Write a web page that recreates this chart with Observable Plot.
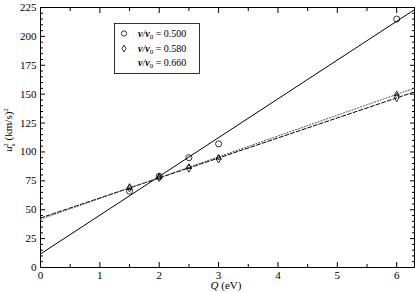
<!DOCTYPE html>
<html><head><meta charset="utf-8">
<script src="https://cdn.jsdelivr.net/npm/d3@7"></script>
<script src="https://cdn.jsdelivr.net/npm/@observablehq/plot@0.6"></script>
<style>body{margin:0;background:#fff}</style>
</head><body><div id="chart"></div>
<script>
const Q = [1.5, 2, 2.5, 3, 6];
const ratios = ["0.500", "0.580", "0.660"];
const u2_a = [66, 79, 95, 107, 215];
const u2_b = [69, 78, 86, 94, 147];
const u2_c = [69, 78, 87, 95, 150];
const xTicks = [0, 1, 2, 3, 4, 5, 6];
const xMinor = [0.5, 1.5, 2.5, 3.5, 4.5, 5.5];
const yTicks = [0, 25, 50, 75, 100, 125, 150, 175, 200, 225];
const yMinor = d3.range(5, 225, 5).filter(v => v % 25 !== 0);
const xDomain = [0, 6.3];
const yDomain = [0, 225];

const seriesY = [u2_a, u2_b, u2_c];
const symbols = ["circle", "diamond", "triangle"];
const dashes = [null, "4,2", "1.2,1.8"];
const strokes = ["#000", "#000", "#555"];

const pts = seriesY.flatMap((ys, i) => Q.map((q, j) => ({Q: q, u: ys[j], s: i})));
// least-squares fit lines across the x domain
const fitLines = seriesY.map((ys, i) => {
  const mx = d3.mean(Q), my = d3.mean(ys);
  const sxy = d3.sum(Q, (q, j) => (q - mx) * (ys[j] - my));
  const sxx = d3.sum(Q, q => (q - mx) ** 2);
  const b = sxy / sxx, a = my - b * mx;
  return xDomain.map(x => ({Q: x, u: a + b * x, s: i}));
});

const font = "'Liberation Serif', 'Times New Roman', serif";
const axisCommon = {label: null, stroke: "#000"};
const marks = [
  Plot.frame({stroke: "#000"}),
  ...["bottom", "top"].flatMap(anchor => [
    Plot.axisX({anchor, ticks: xTicks, tickSize: -5, text: null, ...axisCommon}),
    Plot.axisX({anchor, ticks: xMinor, tickSize: -3, text: null, ...axisCommon})
  ]),
  ...["left", "right"].flatMap(anchor => [
    Plot.axisY({anchor, ticks: yTicks, tickSize: -5, text: null, ...axisCommon}),
    Plot.axisY({anchor, ticks: yMinor, tickSize: -3, text: null, ...axisCommon})
  ]),
  Plot.axisX({anchor: "bottom", ticks: xTicks, tickSize: 0, tickPadding: 4, tickFormat: d => String(d), label: null}),
  Plot.axisY({anchor: "left", ticks: yTicks, tickSize: 0, tickPadding: 4, tickFormat: d => String(d), label: null}),
  ...fitLines.map((ln, i) => Plot.line(ln, {x: "Q", y: "u", stroke: strokes[i], strokeWidth: 1, strokeDasharray: dashes[i]})),
  ...[0, 1, 2].map(i => Plot.dot(pts.filter(d => d.s === i), {x: "Q", y: "u", symbol: () => symbols[i], r: i === 0 ? 3 : (i === 1 ? 2.5 : 2), stroke: "#000", strokeWidth: 0.8, fill: "none"}))
];

const plot = Plot.plot({
  width: 415, height: 292,
  marginLeft: 40, marginRight: 1, marginTop: 7, marginBottom: 25,
  x: {domain: xDomain},
  y: {domain: yDomain},
  style: {fontFamily: font, fontSize: "11px", color: "#000", background: "#fff", overflow: "visible"},
  marks
});
document.getElementById("chart").append(plot);

const svg = d3.select(plot);
const xl = svg.append("text").attr("x", 226).attr("y", 289).attr("text-anchor", "middle")
  .attr("font-family", font).attr("font-size", 11).attr("fill", "#000");
xl.append("tspan").attr("font-style", "italic").text("Q");
xl.append("tspan").text(" (eV)");

const yl = svg.append("text").attr("transform", "translate(12,130) rotate(-90)").attr("text-anchor", "middle")
  .attr("font-family", font).attr("font-size", 11).attr("fill", "#000");
yl.append("tspan").attr("font-style", "italic").text("u");
yl.append("tspan").attr("font-size", 7).attr("dy", 3).text("s");
yl.append("tspan").attr("font-size", 7).attr("dy", -7).attr("dx", -3).text("2");
yl.append("tspan").attr("dy", 4).text(" (km/s)");
yl.append("tspan").attr("font-size", 7).attr("dy", -4).text("2");

const lg = svg.append("g").attr("font-family", font).attr("font-size", 10).attr("text-anchor", "start");
lg.append("rect").attr("x", 114.5).attr("y", 23.5).attr("width", 85).attr("height", 50)
  .attr("fill", "#fff").attr("stroke", "#000").attr("stroke-width", 0.8);
const rowsY = [37, 52, 66];
ratios.forEach((r, i) => {
  if (i < 2) {
    const sym = d3.symbol().type(i === 0 ? d3.symbolCircle : d3.symbolDiamond).size(i === 0 ? 22 : 14);
    lg.append("path").attr("d", sym()).attr("transform", `translate(124,${rowsY[i] - 3.5})`)
      .attr("fill", "none").attr("stroke", "#000").attr("stroke-width", 0.8);
  }
  const t = lg.append("text").attr("x", 138).attr("y", rowsY[i]).attr("fill", "#000").attr("text-anchor", "start");
  t.append("tspan").attr("font-weight", "bold").attr("font-style", "italic").text("v");
  t.append("tspan").attr("font-style", "italic").text("/");
  t.append("tspan").attr("font-weight", "bold").attr("font-style", "italic").text("v");
  t.append("tspan").attr("font-size", 7).attr("dy", 2).text("0");
  t.append("tspan").attr("dy", -2).text(" = " + r);
});
</script>
</body></html>
